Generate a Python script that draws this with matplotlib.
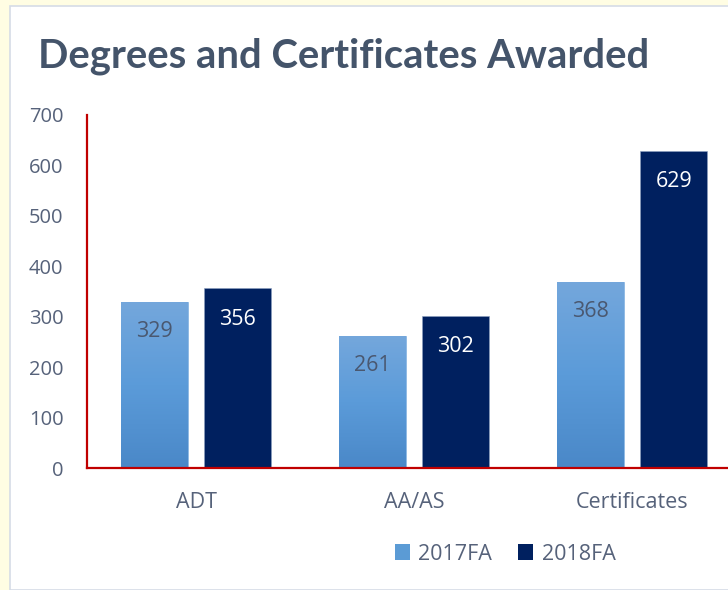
import numpy as np
import matplotlib
matplotlib.use("Agg")
import matplotlib.pyplot as plt
from matplotlib.patches import Rectangle
from matplotlib.colors import LinearSegmentedColormap

categories = ["ADT", "AA/AS", "Certificates"]
fa2017 = [329, 261, 368]
fa2018 = [356, 302, 629]
series_names = ["2017FA", "2018FA"]
yticks = [0, 100, 200, 300, 400, 500, 600, 700]

text_col = "#56627A"
dark_blue = "#00205F"
grad = LinearSegmentedColormap.from_list("g", ["#4A88C8", "#5B9BD9", "#74A7DC"])

plt.rcParams["font.family"] = ["Open Sans", "DejaVu Sans"]

fig = plt.figure(figsize=(7.28, 5.90), dpi=100, facecolor="#FFFDE3")
fig.patches.append(Rectangle((10 / 728, 0), 1, 1 - 6 / 590, transform=fig.transFigure,
                             facecolor="white", edgecolor="#D5DCE6", linewidth=1.2, zorder=-10))

fig.text(38 / 728, 1 - 56 / 590, "Degrees and Certificates Awarded", fontsize=28.8,
         fontweight="bold", color="#44546A", va="center", ha="left", family=["Lato", "DejaVu Sans"])

ax = fig.add_axes([87 / 728, 1 - 468 / 590, 654 / 728, (468 - 115) / 590])
ax.set_facecolor("none")

x = np.arange(len(categories))
off = 0.192
w = 0.307

b1 = ax.bar(x - off, fa2017, w, color="#5B9BD5", edgecolor="#8DB8E4", linewidth=0.6, zorder=2)
b2 = ax.bar(x + off, fa2018, w, color=dark_blue, edgecolor="#8DA0C0", linewidth=0.4, zorder=2)

# vertical gradient on the light bars
g = np.linspace(0, 1, 256).reshape(-1, 1)
for bar in b1:
    bx, by = bar.get_x(), bar.get_y()
    im = ax.imshow(g, cmap=grad, aspect="auto", origin="lower", zorder=2.5,
                   extent=[bx, bx + bar.get_width(), by, by + bar.get_height()])
    im.set_clip_path(bar)

for bar, v in zip(b1, fa2017):
    ax.text(bar.get_x() + bar.get_width() / 2, v - 58, str(v), ha="center", va="center",
            fontsize=15.5, color="#4A5870", zorder=3)
for bar, v in zip(b2, fa2018):
    ax.text(bar.get_x() + bar.get_width() / 2, v - 61, str(v), ha="center", va="center",
            fontsize=15.5, color="white", zorder=3)

ax.set_xlim(-0.5, 2.5)
ax.set_ylim(0, 700)
ax.set_yticks(yticks)
ax.set_xticks(x)
ax.set_xticklabels(categories)
ax.tick_params(axis="y", length=0, labelsize=14.5, colors=text_col, pad=17)
ax.tick_params(axis="x", length=0, labelsize=15.5, colors=text_col, pad=17)
for s in ["top", "right"]:
    ax.spines[s].set_visible(False)
for s in ["left", "bottom"]:
    ax.spines[s].set_color("#C00000")
    ax.spines[s].set_linewidth(1.6)

h1 = Rectangle((0, 0), 1, 1, facecolor="#5B9BD5")
h2 = Rectangle((0, 0), 1, 1, facecolor=dark_blue)
fig.legend([h1, h2], series_names, loc="center", bbox_to_anchor=(505 / 728, 1 - 554 / 590),
           ncol=2, frameon=False, fontsize=15.5, labelcolor=text_col, handlelength=0.7,
           handleheight=0.7, handletextpad=0.4, columnspacing=1.2)

fig.savefig("out.png", dpi=100, facecolor=fig.get_facecolor())
